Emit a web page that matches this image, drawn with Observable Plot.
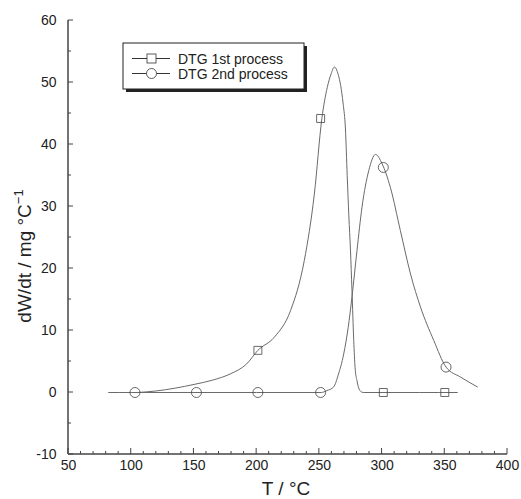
<!DOCTYPE html>
<html>
<head>
<meta charset="utf-8">
<script src="https://cdn.jsdelivr.net/npm/d3@7"></script>
<script src="https://cdn.jsdelivr.net/npm/@observablehq/plot@0.6"></script>
<style>
  html, body { margin: 0; padding: 0; background: #fff; }
  #chart { width: 521px; height: 499px; }
</style>
</head>
<body>
<div id="chart"></div>
<script>
// Curve 1: DTG 1st process
const curve1T = [105, 120, 135, 150, 165, 179, 192, 201, 214, 227, 238, 246, 252, 256.3, 259.4, 262, 265, 267, 269, 270.8, 272.2, 273.5, 274.8, 276, 277.4, 278.5, 280, 282.8, 285, 300, 330, 360];
const curve1V = [0, 0.25, 0.7, 1.3, 2.0, 3.0, 4.6, 6.8, 8.9, 13.2, 21.3, 32.0, 44.2, 49.2, 51.4, 52.5, 51.3, 49.5, 46.5, 42.5, 35, 28.5, 23, 16.5, 8.4, 4, 1.9, 0.2, 0, 0, 0, 0];
// Curve 2: DTG 2nd process
const curve2T = [82, 100, 150, 200, 225, 251.5, 256, 261.4, 265, 269.4, 273, 276, 280, 284, 289.4, 294.8, 300, 306.6, 314.6, 322.7, 330.6, 341.2, 351, 362.5, 376];
const curve2V = [0, 0, 0, 0, 0, 0, 0.3, 0.9, 2.8, 6.2, 10.5, 15.4, 22.9, 29.9, 35.8, 38.4, 36.9, 33.1, 26.1, 19.1, 13.8, 8.4, 4.1, 2.5, 0.9];
// Markers
const squares1T = [201, 251, 301, 350];
const squares1V = [6.8, 44.2, 0, 0];
const circles2T = [103, 152, 201, 251, 301, 351];
const circles2V = [0, 0, 0, 0, 36.3, 4.1];
// Ticks
const xTicks = [50, 100, 150, 200, 250, 300, 350, 400];
const yTicks = [-10, 0, 10, 20, 30, 40, 50, 60];
const seriesNames = ["DTG 1st process", "DTG 2nd process"];

const c1 = curve1T.map((t, i) => ({T: t, v: curve1V[i]}));
const c2 = curve2T.map((t, i) => ({T: t, v: curve2V[i]}));
const s1 = squares1T.map((t, i) => ({T: t, v: squares1V[i]}));
const o2 = circles2T.map((t, i) => ({T: t, v: circles2V[i]}));
const xMinor = d3.range(50, 401, 10).filter(d => d % 50 !== 0);
const yMinor = d3.range(-5, 60, 10);

const ink = "#444";
const lineInk = "#6a6a6a";

const plot = Plot.plot({
  width: 521,
  height: 499,
  marginLeft: 68,
  marginRight: 14,
  marginTop: 20,
  marginBottom: 45,
  style: {fontFamily: "Liberation Sans, Arial, sans-serif", background: "#fff"},
  x: {type: "linear", domain: [50, 400]},
  y: {type: "linear", domain: [-10, 60]},
  marks: [
    Plot.line(c1, {x: "T", y: "v", stroke: lineInk, strokeWidth: 1, curve: "monotone-x"}),
    Plot.line(c2, {x: "T", y: "v", stroke: lineInk, strokeWidth: 1, curve: "monotone-x"}),
    Plot.dot(s1, {x: "T", y: "v", symbol: "square", r: 4.5, stroke: ink, strokeWidth: 0.8, fill: "none"}),
    Plot.dot(o2, {x: "T", y: "v", symbol: "circle", r: 5, stroke: ink, strokeWidth: 0.8, fill: "none"}),
    Plot.axisX({ticks: xTicks, tickFormat: d => String(d), tickSize: 0, tickPadding: 6, fontSize: 14, fill: "#222", label: null}),
    Plot.axisY({ticks: yTicks, tickFormat: d => String(d), tickSize: 0, tickPadding: 12, fontSize: 14, fill: "#222", label: null})
  ]
});

document.getElementById("chart").appendChild(plot);
const svg = d3.select(plot);
const xs = plot.scale("x"), ys = plot.scale("y");

// axis lines and inward ticks
const tk = svg.append("g").attr("stroke", ink).attr("stroke-width", 1);
tk.append("line").attr("x1", xs.apply(50)).attr("x2", xs.apply(50)).attr("y1", ys.apply(60)).attr("y2", ys.apply(-10)).attr("stroke-width", 1.5);
tk.append("line").attr("x1", xs.apply(50)).attr("x2", xs.apply(400)).attr("y1", ys.apply(-10)).attr("y2", ys.apply(-10)).attr("stroke-width", 1.5);
xTicks.forEach(d => tk.append("line").attr("x1", xs.apply(d)).attr("x2", xs.apply(d)).attr("y1", ys.apply(-10)).attr("y2", ys.apply(-10) - 6));
xMinor.forEach(d => tk.append("line").attr("x1", xs.apply(d)).attr("x2", xs.apply(d)).attr("y1", ys.apply(-10)).attr("y2", ys.apply(-10) - 3));
yTicks.forEach(d => tk.append("line").attr("y1", ys.apply(d)).attr("y2", ys.apply(d)).attr("x1", xs.apply(50)).attr("x2", xs.apply(50) + 5));
yMinor.forEach(d => tk.append("line").attr("y1", ys.apply(d)).attr("y2", ys.apply(d)).attr("x1", xs.apply(50)).attr("x2", xs.apply(50) + 3));

// Axis titles
svg.append("text")
  .attr("x", 286).attr("y", 495)
  .attr("text-anchor", "middle")
  .attr("font-size", 19).attr("fill", "#222")
  .attr("font-family", "Liberation Sans, Arial, sans-serif")
  .text("T / °C");
const yt = svg.append("text")
  .attr("transform", "translate(31,256) rotate(-90)")
  .attr("text-anchor", "middle")
  .attr("font-size", 19).attr("fill", "#222")
  .attr("font-family", "Liberation Sans, Arial, sans-serif");
yt.append("tspan").text("dW/dt / mg °C");
yt.append("tspan").attr("dy", -8).attr("font-size", 13).text("−1");

// Legend
const lg = svg.append("g").attr("font-family", "Liberation Sans, Arial, sans-serif").attr("text-anchor", "start");
lg.append("rect").attr("x", 126).attr("y", 46).attr("width", 181).attr("height", 46).attr("fill", "#222");
lg.append("rect").attr("x", 123).attr("y", 43).attr("width", 181).attr("height", 46).attr("fill", "#fff").attr("stroke", "#222").attr("stroke-width", 1);
const rows = [58.5, 73.5];
rows.forEach((ry, i) => {
  lg.append("line").attr("x1", 132).attr("x2", 170).attr("y1", ry).attr("y2", ry).attr("stroke", "#333").attr("stroke-width", 1);
  if (i === 0) {
    lg.append("rect").attr("x", 147).attr("y", ry - 4.5).attr("width", 9).attr("height", 9).attr("fill", "#fff").attr("stroke", "#333").attr("stroke-width", 0.8);
  } else {
    lg.append("circle").attr("cx", 151.5).attr("cy", ry).attr("r", 5).attr("fill", "#fff").attr("stroke", "#333").attr("stroke-width", 0.8);
  }
  lg.append("text").attr("x", 178).attr("y", ry + 5).attr("font-size", 14).attr("fill", "#222").text(seriesNames[i]);
});
</script>
</body>
</html>
